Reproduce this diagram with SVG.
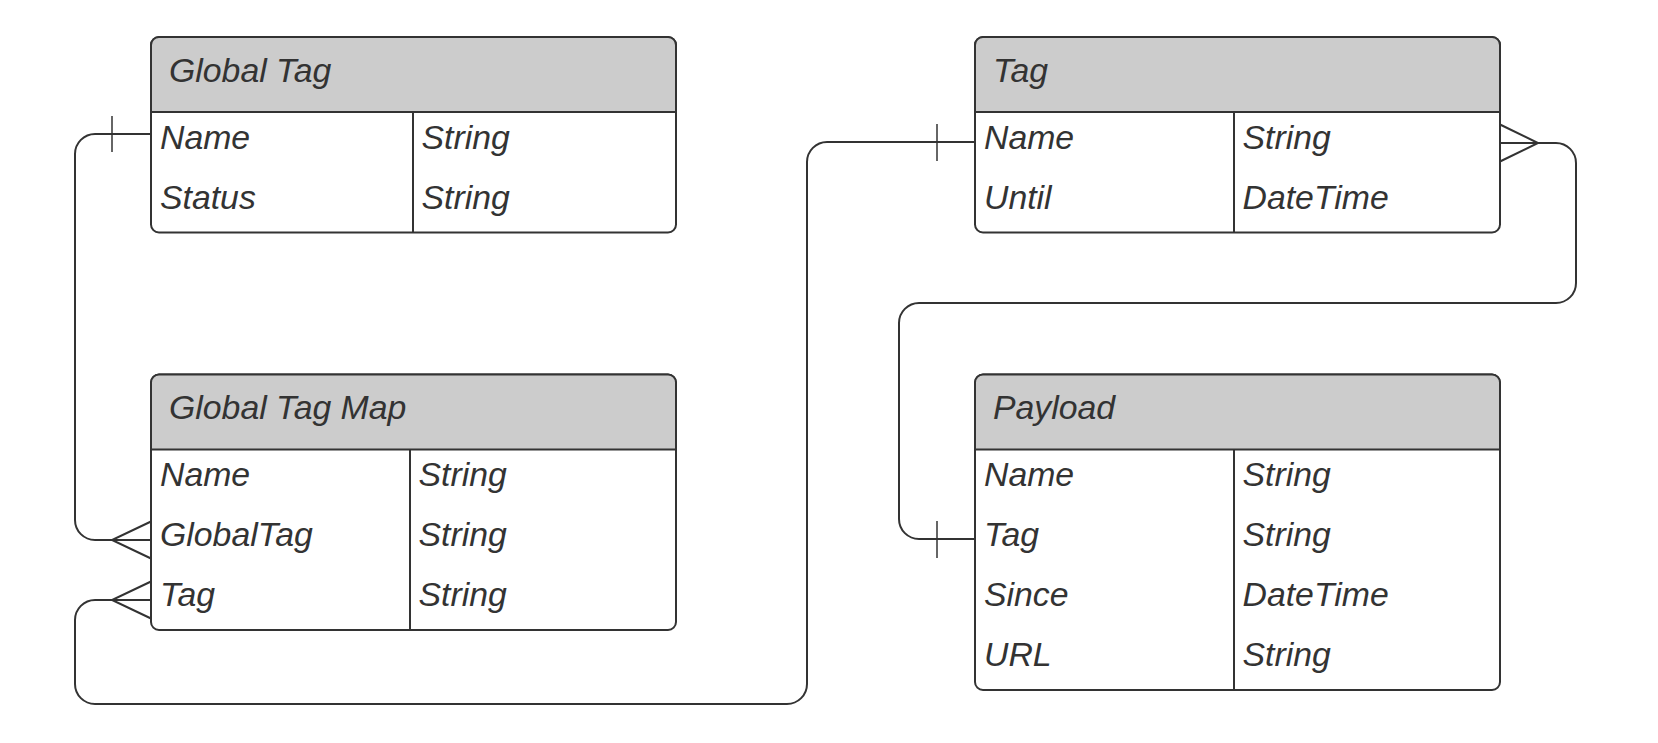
<svg xmlns="http://www.w3.org/2000/svg" width="1658" height="743" viewBox="0 0 1658 743">
<style>
.box{fill:#ffffff;stroke:#333333;stroke-width:2}
.hdr{fill:#cccccc;stroke:#333333;stroke-width:2}
.div{stroke:#333333;stroke-width:2;fill:none}
.t{font-family:"Liberation Sans",Arial,sans-serif;font-style:italic;font-size:33.8px;fill:#333333}
.c{fill:none;stroke:#333333;stroke-width:2}
.m{fill:none;stroke:#333333;stroke-width:1.5}
</style>
<rect width="1658" height="743" fill="#ffffff"/>
<g id="connectors">
  <!-- Global Tag.Name -> Global Tag Map.GlobalTag -->
  <path class="c" d="M151,134 H95 A20,20 0 0 0 75,154 V520 A20,20 0 0 0 95,540 H151"/>
  <path class="m" d="M112,116 V152"/>
  <path class="c" d="M151,521.5 L112,540 L151,558.5"/>
  <!-- Tag.Name -> Global Tag Map.Tag -->
  <path class="c" d="M975,142 H827 A20,20 0 0 0 807,162 V684 A20,20 0 0 1 787,704 H95 A20,20 0 0 1 75,684 V620 A20,20 0 0 1 95,600 H151"/>
  <path class="m" d="M937,124 V161"/>
  <path class="c" d="M151,581.5 L112,600 L151,618.5"/>
  <!-- Tag.Name (right) -> Payload.Tag -->
  <path class="c" d="M1500,143 H1556 A20,20 0 0 1 1576,163 V283 A20,20 0 0 1 1556,303 H919 A20,20 0 0 0 899,323 V519 A20,20 0 0 0 919,539 H975"/>
  <path class="c" d="M1500,124.5 L1538,143 L1500,161.5"/>
  <path class="m" d="M937,521 V558"/>
</g>
<g id="global-tag">
  <rect class="box" x="151" y="37" width="525" height="195.5" rx="8"/>
  <path class="hdr" d="M151,112 V45 A8,8 0 0 1 159,37 H668 A8,8 0 0 1 676,45 V112 Z"/>
  <path class="div" d="M413,112 V232.5"/>
  <text class="t" x="169" y="82">Global Tag</text>
  <text class="t" x="160" y="149">Name</text>
  <text class="t" x="421.5" y="149">String</text>
  <text class="t" x="160" y="209">Status</text>
  <text class="t" x="421.5" y="209">String</text>
</g>
<g id="global-tag-map">
  <rect class="box" x="151" y="374.5" width="525" height="255.5" rx="8"/>
  <path class="hdr" d="M151,449.5 V382.5 A8,8 0 0 1 159,374.5 H668 A8,8 0 0 1 676,382.5 V449.5 Z"/>
  <path class="div" d="M410,449.5 V630"/>
  <text class="t" x="169" y="419">Global Tag Map</text>
  <text class="t" x="160" y="486">Name</text>
  <text class="t" x="418.5" y="486">String</text>
  <text class="t" x="160" y="546">GlobalTag</text>
  <text class="t" x="418.5" y="546">String</text>
  <text class="t" x="160" y="606">Tag</text>
  <text class="t" x="418.5" y="606">String</text>
</g>
<g id="tag">
  <rect class="box" x="975" y="37" width="525" height="195.5" rx="8"/>
  <path class="hdr" d="M975,112 V45 A8,8 0 0 1 983,37 H1492 A8,8 0 0 1 1500,45 V112 Z"/>
  <path class="div" d="M1234,112 V232.5"/>
  <text class="t" x="993" y="82">Tag</text>
  <text class="t" x="984" y="149">Name</text>
  <text class="t" x="1242.5" y="149">String</text>
  <text class="t" x="984" y="209">Until</text>
  <text class="t" x="1242.5" y="209">DateTime</text>
</g>
<g id="payload">
  <rect class="box" x="975" y="374.5" width="525" height="315.5" rx="8"/>
  <path class="hdr" d="M975,449.5 V382.5 A8,8 0 0 1 983,374.5 H1492 A8,8 0 0 1 1500,382.5 V449.5 Z"/>
  <path class="div" d="M1234,449.5 V690"/>
  <text class="t" x="993" y="419">Payload</text>
  <text class="t" x="984" y="486">Name</text>
  <text class="t" x="1242.5" y="486">String</text>
  <text class="t" x="984" y="546">Tag</text>
  <text class="t" x="1242.5" y="546">String</text>
  <text class="t" x="984" y="606">Since</text>
  <text class="t" x="1242.5" y="606">DateTime</text>
  <text class="t" x="984" y="666">URL</text>
  <text class="t" x="1242.5" y="666">String</text>
</g>
</svg>
